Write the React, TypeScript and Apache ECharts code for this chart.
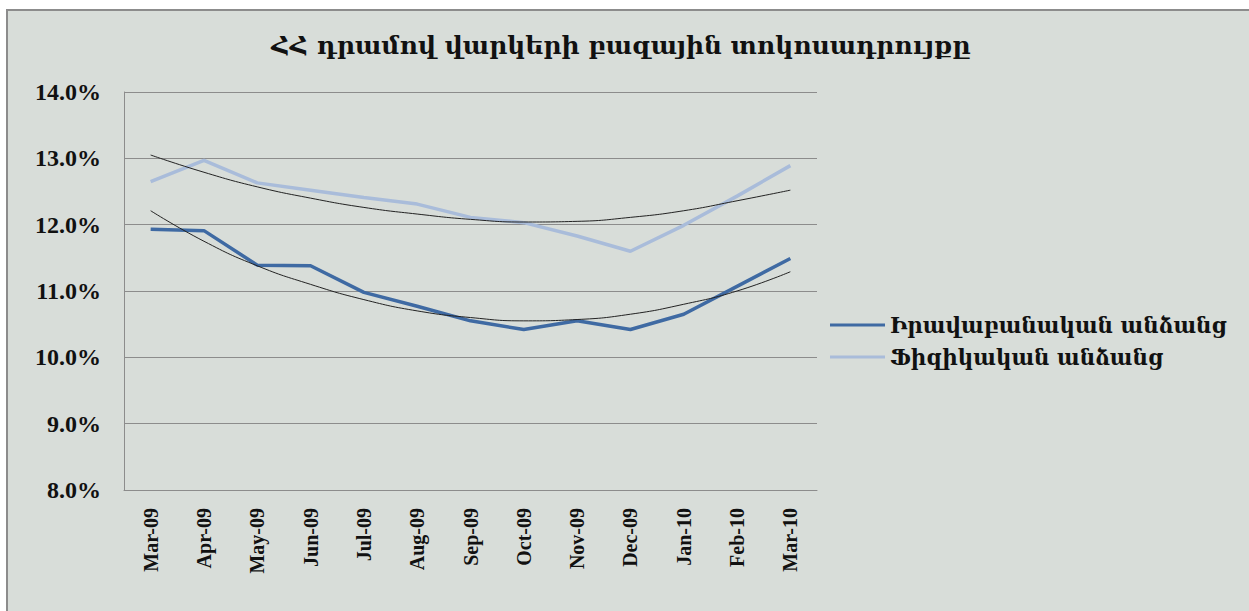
import React, { useEffect, useRef } from "react";
import * as echarts from "echarts";

const categories = ["Mar-09", "Apr-09", "May-09", "Jun-09", "Jul-09", "Aug-09", "Sep-09", "Oct-09", "Nov-09", "Dec-09", "Jan-10", "Feb-10", "Mar-10"];
const legalName = "Իրավաբանական անձանց";
const physicalName = "Ֆիզիկական անձանց";
const legalValues = [11.93, 11.91, 11.39, 11.38, 10.98, 10.77, 10.55, 10.42, 10.55, 10.42, 10.65, 11.07, 11.49];
const physicalValues = [12.65, 12.97, 12.63, 12.52, 12.41, 12.31, 12.11, 12.03, 11.83, 11.6, 11.99, 12.43, 12.89];
const legalTrend = [12.21, 11.75, 11.38, 11.1, 10.87, 10.7, 10.6, 10.55, 10.57, 10.65, 10.8, 11.0, 11.29];
const physicalTrend = [13.05, 12.79, 12.57, 12.4, 12.26, 12.16, 12.08, 12.04, 12.05, 12.11, 12.21, 12.36, 12.52];
const titleText = "ՀՀ դրամով վարկերի բազային տոկոսադրույքը";

export default function App() {
  const ref = useRef<HTMLDivElement>(null);
  useEffect(() => {
    if (!ref.current) return;
    const chart = echarts.init(ref.current, null, { renderer: "svg" });
    const armFont = "'DejaVu Serif', 'Noto Sans', serif";
    const numFont = "'Liberation Serif', 'Times New Roman', serif";
    chart.setOption({
      animation: false,
      backgroundColor: "#ffffff",
      graphic: [
        {
          type: "rect",
          z: -10,
          shape: { x: 7, y: 10, width: 1260, height: 620 },
          style: { fill: "#d8ddd9", stroke: "#8c8c8c", lineWidth: 2 },
        },
      ],
      title: {
        text: titleText,
        left: 616,
        top: 28,
        textAlign: "center",
        textStyle: { fontFamily: armFont, fontSize: 25, fontWeight: "bold", color: "#111" },
      },
      legend: {
        orient: "vertical",
        left: 825,
        top: 309,
        itemWidth: 55,
        itemHeight: 3,
        itemGap: 10,
        icon: "rect",
        data: [legalName, physicalName],
        textStyle: { fontFamily: armFont, fontSize: 21.5, fontWeight: "bold", color: "#111" },
      },
      grid: { left: 124, right: 432, top: 92, bottom: 121, containLabel: false },
      xAxis: {
        type: "category",
        data: categories,
        boundaryGap: true,
        axisLine: { lineStyle: { color: "#8c8c8c", width: 1 } },
        axisTick: { show: false },
        axisLabel: {
          rotate: 90,
          margin: 18,
          interval: 0,
          fontFamily: numFont,
          fontSize: 20,
          fontWeight: "bold",
          color: "#111",
        },
      },
      yAxis: {
        type: "value",
        min: 8,
        max: 14,
        interval: 1,
        axisLine: { show: true, lineStyle: { color: "#8c8c8c", width: 1 } },
        axisTick: { show: false },
        splitLine: { lineStyle: { color: "#8c8c8c", width: 1 } },
        axisLabel: {
          margin: 23,
          fontFamily: numFont,
          fontSize: 24,
          fontWeight: "bold",
          color: "#111",
          formatter: (v: number) => v.toFixed(1) + "%",
        },
      },
      series: [
        {
          name: legalName,
          type: "line",
          data: legalValues,
          symbol: "none",
          z: 3,
          lineStyle: { color: "#3f6aa3", width: 3.5 },
          itemStyle: { color: "#3f6aa3" },
        },
        {
          name: physicalName,
          type: "line",
          data: physicalValues,
          symbol: "none",
          z: 3,
          lineStyle: { color: "#a9bcda", width: 3.5 },
          itemStyle: { color: "#a9bcda" },
        },
        {
          name: "trend1",
          type: "line",
          data: legalTrend,
          symbol: "none",
          smooth: true,
          z: 4,
          silent: true,
          lineStyle: { color: "#222", width: 1 },
        },
        {
          name: "trend2",
          type: "line",
          data: physicalTrend,
          symbol: "none",
          smooth: true,
          z: 4,
          silent: true,
          lineStyle: { color: "#222", width: 1 },
        },
      ],
    });
    return () => chart.dispose();
  }, []);
  return <div ref={ref} style={{ position: "fixed", left: 0, top: 0, width: 1249, height: 611 }} />;
}
